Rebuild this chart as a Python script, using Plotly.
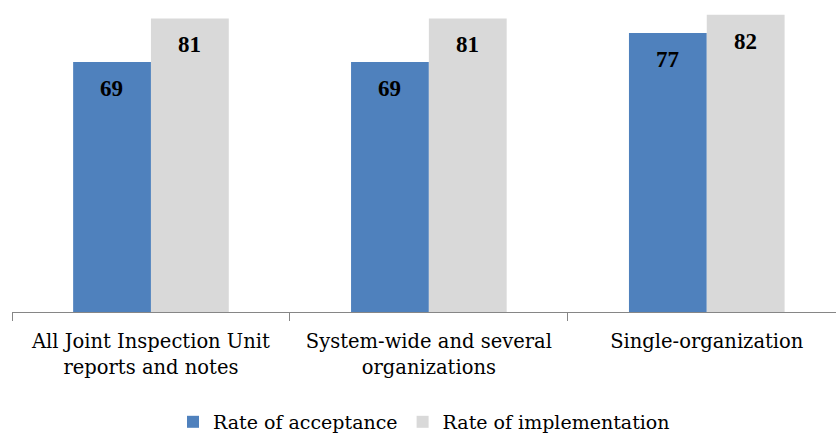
import plotly.graph_objects as go

categories = ["All Joint Inspection Unit<br>reports and notes",
              "System-wide and several<br>organizations",
              "Single-organization"]
acceptance = [69, 69, 77]
implementation = [81, 81, 82]
series_names = ["Rate of acceptance", "Rate of implementation"]

FONT = "Liberation Serif"
TICKFONT = "DejaVu Serif"
BLUE = "#4F81BD"
GRAY = "#D9D9D9"

fig = go.Figure()
fig.add_trace(go.Bar(x=categories, y=acceptance, name=series_names[0],
                     marker=dict(color=BLUE, line=dict(width=0))))
fig.add_trace(go.Bar(x=categories, y=implementation, name=series_names[1],
                     marker=dict(color=GRAY, line=dict(width=0))))

annotations = []
for cat, a, b in zip(categories, acceptance, implementation):
    for val, shift in ((a, -39), (b, 39)):
        annotations.append(dict(x=cat, y=val, xref="x", yref="y", text=f"<b>{val}</b>",
                                showarrow=False, xshift=shift, yshift=-12, yanchor="top",
                                font=dict(family=FONT, size=23, color="black")))

fig.update_layout(
    width=836, height=435,
    margin=dict(l=12, r=0, t=0, b=123),
    plot_bgcolor="white", paper_bgcolor="white",
    barmode="group", bargap=0.44, bargroupgap=0,
    font=dict(family=FONT, size=23, color="black"),
    annotations=annotations,
    showlegend=True,
    legend=dict(orientation="h", x=0.5, xanchor="center", yref="container", y=0.03,
                yanchor="middle", font=dict(family="DejaVu Serif", size=19),
                itemwidth=30, traceorder="normal"),
    xaxis=dict(range=[-0.5, 2.465], showline=True, linecolor="#868686", linewidth=1,
               ticks="outside", tickson="boundaries", ticklen=8, tickcolor="#868686",
               showgrid=False, automargin=False, ticklabelstandoff=12,
               tickfont=dict(family=TICKFONT, size=19.5, color="black")),
    yaxis=dict(range=[0, 86.1], visible=False, showgrid=False, automargin=False),
)

fig.write_html("out.html", config={"displayModeBar": False},
               post_script="document.body.style.margin='0';")
